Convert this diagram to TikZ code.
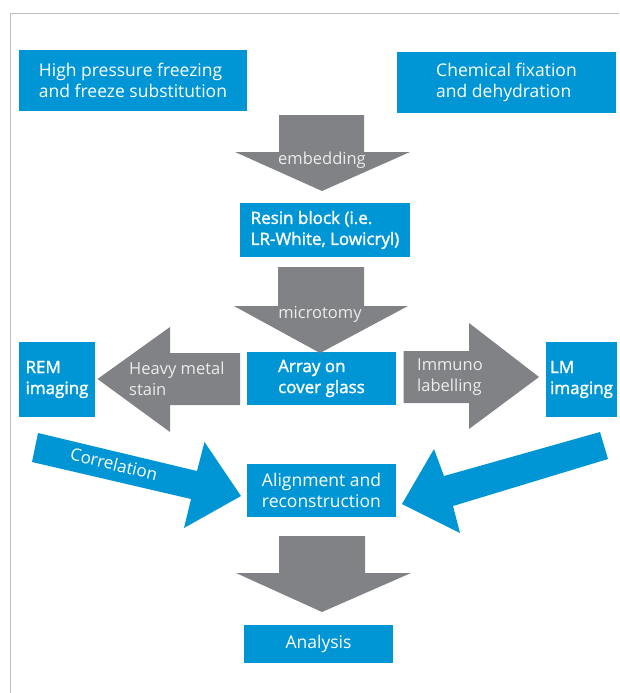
\documentclass[tikz,border=0pt]{standalone}
\usepackage{fontspec}
\setmainfont{Open Sans}
\newfontfamily\semifont{Open Sans}[FakeBold=1.6]
\usetikzlibrary{positioning}
\definecolor{boxblue}{RGB}{0,150,214}
\definecolor{arrowgrey}{RGB}{128,130,133}
\definecolor{labelgrey}{RGB}{236,236,236}
\definecolor{framegrey}{RGB}{190,190,190}
\tikzset{
  box/.style={fill=boxblue, text=white, inner sep=0pt, align=left,
    font=\fontsize{17.5}{21}\selectfont},
  boldbox/.style={box, font=\semifont\fontsize{17}{21}\selectfont},
  greyarrow/.style={fill=arrowgrey},
  bluearrow/.style={fill=boxblue},
  arrowlabel/.style={text=labelgrey, inner sep=0pt, align=left,
    font=\fontsize{16.5}{20.5}\selectfont},
}
\begin{document}
\begin{tikzpicture}[x=1pt,y=-1pt]
	\useasboundingbox (0,0) rectangle (619,693);
	\draw[framegrey, line width=1pt] (10,693) -- (10,14) -- (619,14);%Rahmen

	%Kaesten
	\node[box, minimum width=228, minimum height=61] (hpf) at (133,80.5) {High pressure freezing\\and freeze substitution};
	\node[box, minimum width=219, minimum height=61] (chem) at (506.5,82.5) {Chemical fixation\\and dehydration};
	\node[boldbox, minimum width=170, minimum height=54] (resin) at (325,230) {Resin block (i.e.\\LR-White, Lowicryl)};
	\node[boldbox, minimum width=149, minimum height=53] (array) at (321.5,378.5) {Array on\\cover glass};
	\node[boldbox, minimum width=76, minimum height=75] (rem) at (57,379.5) {REM\\imaging};
	\node[boldbox, minimum width=71, minimum height=75] (lm) at (581.5,379.5) {LM\\imaging};
	\node[box, minimum width=149, minimum height=53] (align) at (321.5,490.5) {Alignment and\\reconstruction};
	\node[box, minimum width=149, minimum height=38] (analysis) at (318.5,644) {Analysis};

	%graue Pfeile
	\fill[greyarrow] (279,115) -- (364,115) -- (364,152) -- (410,152) -- (322,191) -- (235,152) -- (279,152) -- cycle;%embedding
	\node[arrowlabel] (embed) at (322,160) {embedding};
	\fill[greyarrow] (278,267) -- (364,267) -- (364,306) -- (408,306) -- (320,353) -- (234,306) -- (278,306) -- cycle;%microtomy
	\node[arrowlabel] (micro) at (320,314) {microtomy};
	\fill[greyarrow] (240,353) -- (170,353) -- (170,327) -- (97.5,379) -- (170,432) -- (170,405) -- (240,405) -- cycle;%stain
	\node[arrowlabel, anchor=west] (stain) at (129,379) {Heavy metal\\stain};
	\fill[greyarrow] (403.5,351) -- (469,351) -- (469,323) -- (539,377) -- (469,429) -- (469,403) -- (403.5,403) -- cycle;%immuno
	\node[arrowlabel, anchor=west] (immuno) at (417,377) {Immuno\\labelling};
	\fill[greyarrow] (279,536) -- (365,536) -- (365,573) -- (411,573) -- (322,612) -- (236,573) -- (279,573) -- cycle;%analysis

	%blaue Pfeile
	\fill[bluearrow] (38,433) -- (197,471) -- (204.5,442) -- (241,496) -- (184,528) -- (191,499) -- (32,462) -- cycle;%links
	\node[text=white, inner sep=0pt, rotate=-13.3, font=\fontsize{17}{21}\selectfont] (corr) at (114,464) {Correlation};
	\fill[bluearrow] (600,432) -- (444,476) -- (434,449) -- (402,504) -- (460,533) -- (453,506) -- (608,459) -- cycle;%rechts
\end{tikzpicture}
\end{document}
